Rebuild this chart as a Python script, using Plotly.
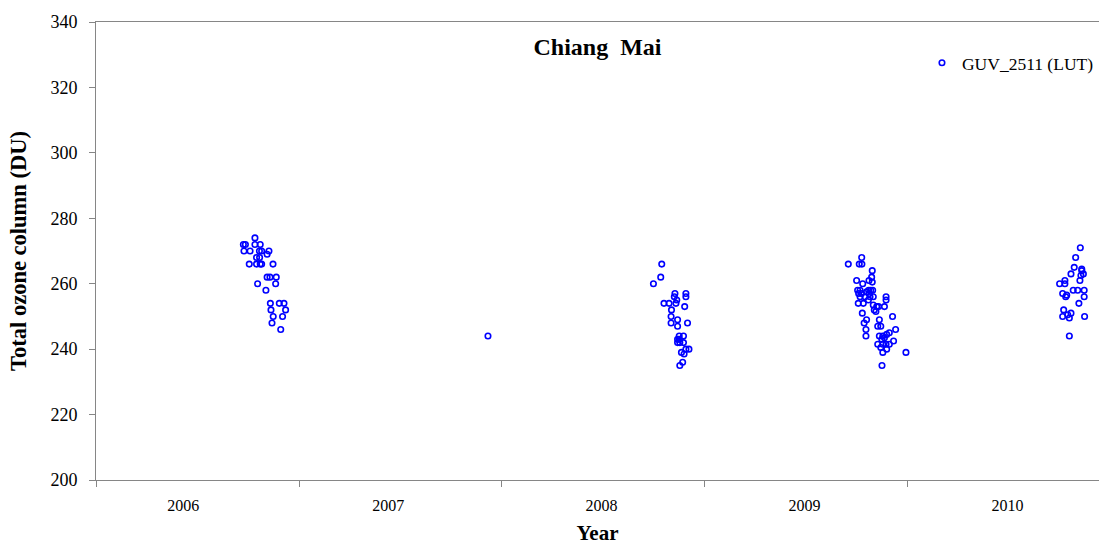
import plotly.graph_objects as go

# Total ozone column retrieved from GUV_2511 (LUT method), Chiang Mai.
# Times are decimal years, values in Dobson Units.
year_2006 = [2006.783, 2006.726, 2006.736, 2006.783, 2006.809, 2006.729, 2006.759,
             2006.805, 2006.816, 2006.852, 2006.791, 2006.806, 2006.843, 2006.755,
             2006.791, 2006.809, 2006.816, 2006.872, 2006.843, 2006.857, 2006.888,
             2006.796, 2006.885, 2006.837, 2006.859, 2006.903, 2006.926, 2006.862,
             2006.934, 2006.873, 2006.919, 2006.867, 2006.910]
ozone_2006 = [274, 272, 272, 272, 272, 270, 270,
              270, 270, 270, 268, 268, 269, 266,
              266, 266, 266, 266, 262, 262, 262,
              260, 260, 258, 254, 254, 254, 252,
              252, 250, 250, 248, 246]

year_2007 = [2007.931]
ozone_2007 = [244]

year_2008 = [2008.787, 2008.782, 2008.746, 2008.852, 2008.849, 2008.861, 2008.906,
             2008.906, 2008.798, 2008.823, 2008.857, 2008.835, 2008.900, 2008.833,
             2008.865, 2008.833, 2008.914, 2008.865, 2008.873, 2008.894, 2008.865,
             2008.873, 2008.865, 2008.876, 2008.894, 2008.906, 2008.921, 2008.884,
             2008.897, 2008.890, 2008.876]
ozone_2008 = [266, 262, 260, 257, 256, 255, 257,
              256, 254, 254, 254, 252, 253, 250,
              249, 248, 248, 247, 244, 244, 243,
              243, 242, 242, 242, 240, 240, 239,
              238.5, 236, 235]

year_2009 = [2009.772, 2009.706, 2009.760, 2009.773, 2009.824, 2009.821, 2009.747,
             2009.808, 2009.824, 2009.777, 2009.752, 2009.764, 2009.806, 2009.816,
             2009.826, 2009.796, 2009.808, 2009.757, 2009.771, 2009.764, 2009.788,
             2009.813, 2009.829, 2009.892, 2009.892, 2009.755, 2009.780, 2009.805,
             2009.829, 2009.846, 2009.884, 2009.834, 2009.842, 2009.855, 2009.775,
             2009.924, 2009.796, 2009.784, 2009.859, 2009.851, 2009.866, 2009.793,
             2009.939, 2009.908, 2009.895, 2009.793, 2009.859, 2009.876, 2009.884,
             2009.871, 2009.929, 2009.851, 2009.876, 2009.892, 2009.908, 2009.866,
             2009.895, 2009.876, 2009.990, 2009.872]
ozone_2009 = [268, 266, 266, 266, 264, 262, 261,
              261, 260.5, 260, 258, 258, 258, 258,
              258, 257.5, 257, 257, 257, 256, 256,
              256, 256, 256, 255, 254, 254, 255,
              253.5, 253, 253, 252, 251.5, 253, 251,
              250, 249, 248, 249, 247, 247, 246,
              246, 245, 244.5, 244, 244, 244, 243.5,
              243, 242.5, 241.5, 241.5, 241.5, 241.5, 240.5,
              240, 239, 239, 235]

year_2010 = [2010.849, 2010.826, 2010.819, 2010.856, 2010.856, 2010.864, 2010.852,
             2010.803, 2010.847, 2010.747, 2010.773, 2010.773, 2010.762, 2010.782,
             2010.777, 2010.814, 2010.836, 2010.868, 2010.868, 2010.842, 2010.767,
             2010.803, 2010.787, 2010.762, 2010.795, 2010.870, 2010.795]
ozone_2010 = [271, 268, 265, 264.5, 264, 263, 262.5,
              263, 261, 260, 261, 260, 257, 256.5,
              256, 258, 258, 258, 256, 254, 252,
              251, 250.5, 250, 249.5, 250, 244]

year_labels = ["2006", "2007", "2008", "2009", "2010"]
year_starts = [2006, 2007, 2008, 2009, 2010]
label_positions = [2006.43, 2007.44, 2008.49, 2009.49, 2010.49]

x_all = year_2006 + year_2007 + year_2008 + year_2009 + year_2010
y_all = ozone_2006 + ozone_2007 + ozone_2008 + ozone_2009 + ozone_2010

SERIF = "Liberation Serif, Times New Roman, serif"
AXIS_GRAY = "#868686"

fig = go.Figure()
fig.add_trace(go.Scatter(
    x=x_all, y=y_all, mode="markers", name="GUV_2511 (LUT)",
    marker=dict(symbol="circle-open", size=5.5, color="#0000ff",
                line=dict(width=1.6, color="#0000ff")),
))

fig.update_layout(
    width=1099, height=545,
    margin=dict(l=96, r=0, t=22, b=65),
    paper_bgcolor="white", plot_bgcolor="white",
    font=dict(family=SERIF, color="black"),
    title=dict(text="Chiang\u00a0 Mai", x=0.5, xref="paper", xanchor="center",
               y=1 - 47 / 545, yref="container", yanchor="middle",
               font=dict(family=SERIF, size=24, weight="bold", color="black")),
    showlegend=True,
    legend=dict(x=0.8235, y=0.95, xanchor="left", yanchor="top",
                bgcolor="rgba(0,0,0,0)", font=dict(family=SERIF, size=17.5, color="black"),
                itemwidth=30),
)

fig.update_xaxes(
    range=[2006, 2010.941], showgrid=False, zeroline=False,
    showline=True, linecolor=AXIS_GRAY, linewidth=1, mirror=True,
    tickmode="array", tickvals=label_positions, ticktext=year_labels, ticks="",
    ticklabelstandoff=11,
    tickfont=dict(family=SERIF, size=16, color="black"),
    minor=dict(tickmode="array", tickvals=year_starts, ticks="outside",
               ticklen=6, tickcolor=AXIS_GRAY, tickwidth=1, showgrid=False),
    title=dict(text="Year", standoff=14,
               font=dict(family=SERIF, size=21, weight="bold", color="black")),
)

fig.update_yaxes(
    range=[200, 340], dtick=20, tick0=200, showgrid=False, zeroline=False,
    showline=True, linecolor=AXIS_GRAY, linewidth=1,
    ticks="outside", ticklen=6, tickcolor=AXIS_GRAY, tickwidth=1,
    ticklabelstandoff=8,
    tickfont=dict(family=SERIF, size=18, color="black"),
    title=dict(text="Total ozone column (DU)", standoff=17,
               font=dict(family=SERIF, size=22.5, weight="bold", color="black")),
)

fig.write_html("out.html")
